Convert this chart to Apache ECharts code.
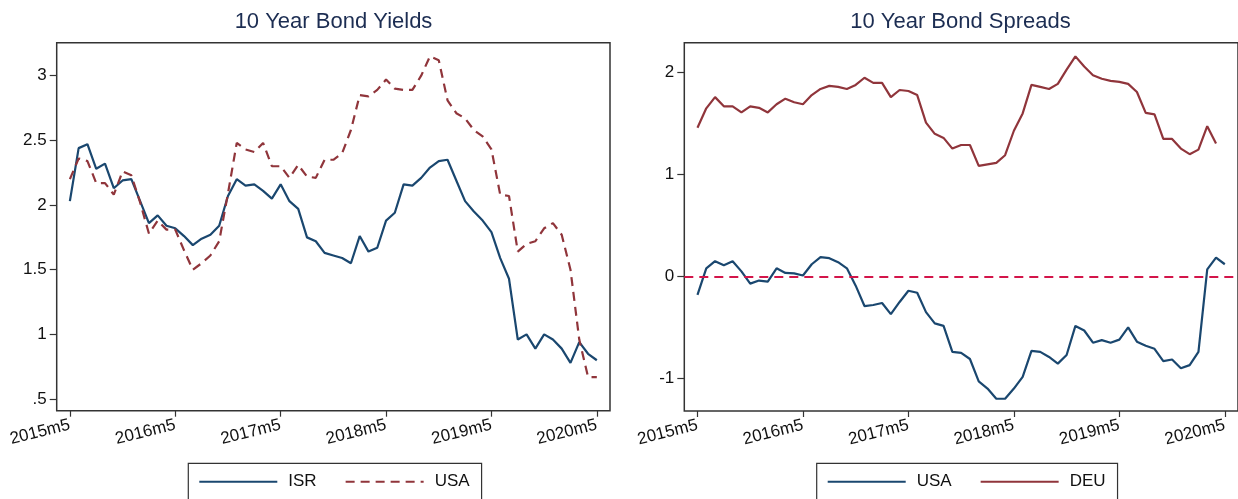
<!DOCTYPE html>
<html>
<head>
<meta charset="utf-8">
<script src="https://cdn.jsdelivr.net/npm/echarts@6/dist/echarts.min.js"></script>
<style>
html,body{margin:0;padding:0;background:#fff;}
#c{width:1238px;height:499px;}
</style>
</head>
<body>
<div id="c"></div>
<script>
// Month labels 2015m5 .. 2020m5
const months = [];
for (let y = 2015, m = 5; months.length < 61; ) {
  months.push(y + 'm' + m);
  m++; if (m > 12) { m = 1; y++; }
}
const xTickIdx = [0, 12, 24, 36, 48, 60];

// 10 Year Bond Yields
const isrYield = [2.03,2.44,2.47,2.28,2.32,2.13,2.19,2.20,2.03,1.86,1.92,1.84,1.82,1.76,1.69,1.74,1.77,1.84,2.07,2.20,
  2.15,2.16,2.11,2.05,2.16,2.03,1.97,1.75,1.72,1.63,1.61,1.59,1.55,1.76,1.64,1.67,1.88,1.94,2.16,2.15,
  2.21,2.29,2.34,2.35,2.19,2.03,1.95,1.88,1.79,1.59,1.43,0.96,1.00,0.89,1.00,0.96,0.89,0.78,0.94,0.85,0.80];
const usaYield = [2.20,2.36,2.34,2.17,2.17,2.08,2.26,2.23,2.02,1.78,1.88,1.81,1.81,1.65,1.50,1.55,1.61,1.72,2.09,2.48,
  2.43,2.41,2.48,2.30,2.30,2.21,2.31,2.22,2.21,2.35,2.35,2.40,2.58,2.85,2.84,2.89,2.97,2.90,2.89,2.89,
  3.00,3.15,3.12,2.81,2.71,2.67,2.58,2.53,2.43,2.08,2.07,1.64,1.70,1.72,1.82,1.86,1.77,1.50,0.96,0.67,0.67];

// 10 Year Bond Spreads
const usaSpread = [-0.18,0.08,0.15,0.11,0.15,0.05,-0.07,-0.04,-0.05,0.08,0.035,0.03,0.01,0.12,0.19,0.18,0.14,0.08,-0.09,-0.29,
  -0.28,-0.26,-0.37,-0.25,-0.14,-0.16,-0.35,-0.46,-0.485,-0.74,-0.75,-0.81,-1.03,-1.10,-1.20,-1.20,-1.10,-0.985,-0.73,-0.74,
  -0.79,-0.855,-0.77,-0.485,-0.53,-0.65,-0.625,-0.65,-0.62,-0.50,-0.64,-0.68,-0.71,-0.83,-0.815,-0.90,-0.87,-0.74,0.07,0.185,0.12];
const deuSpread = [1.46,1.65,1.76,1.67,1.67,1.61,1.67,1.655,1.61,1.69,1.745,1.71,1.69,1.78,1.84,1.87,1.86,1.84,1.88,1.95,
  1.90,1.90,1.76,1.83,1.82,1.78,1.51,1.40,1.36,1.255,1.29,1.29,1.085,1.10,1.115,1.19,1.43,1.60,1.88,1.86,
  1.84,1.89,2.03,2.16,2.06,1.975,1.94,1.92,1.91,1.89,1.81,1.605,1.59,1.35,1.35,1.255,1.20,1.245,1.475,1.305];

const yLeftTicks = [0.5, 1, 1.5, 2, 2.5, 3];
const yRightTicks = [-1, 0, 1, 2];

const NAVY = '#1a476f', MAROON = '#90353b', ZERO = '#d3154a';
const FONT = 'Liberation Sans, Arial, sans-serif';
const FRAME = '#333';

const toPairs = arr => arr.map((v, i) => [i, v]);

function xAxisOpt(gi) {
  return {
    type: 'value', gridIndex: gi, min: -1.5, max: 61.5,
    axisLine: { show: false, onZero: false },
    splitLine: { show: false },
    axisTick: { show: true, length: 6, customValues: xTickIdx, lineStyle: { color: FRAME, width: 1.2 } },
    axisLabel: {
      customValues: xTickIdx, rotate: 14, margin: 14,
      formatter: v => months[Math.round(v)] || '',
      color: '#111', fontSize: 17, fontFamily: FONT
    }
  };
}
function yAxisOpt(gi, min, max, ticks, fmt) {
  return {
    type: 'value', gridIndex: gi, min: min, max: max,
    axisLine: { show: false, onZero: false },
    splitLine: { show: false },
    axisTick: { show: true, length: 7, customValues: ticks, lineStyle: { color: FRAME, width: 1.2 } },
    axisLabel: {
      customValues: ticks, margin: 10, formatter: fmt,
      color: '#111', fontSize: 17, fontFamily: FONT
    }
  };
}

const legendCommon = {
  orient: 'horizontal', padding: [10, 12, 40, 10],
  borderColor: FRAME, borderWidth: 1.2, itemWidth: 78, itemHeight: 20, itemGap: 28,
  itemStyle: { opacity: 0 },
  textStyle: { fontSize: 17, color: '#111', fontFamily: FONT, padding: [4, 0, 0, 6] }
};

const chart = echarts.init(document.getElementById('c'), null, { renderer: 'canvas' });
chart.setOption({
  backgroundColor: '#fff',
  animation: false,
  title: [
    { text: '10 Year Bond Yields', left: 333.5, top: 11, textAlign: 'center', padding: 0,
      textStyle: { fontSize: 22, fontWeight: 'normal', color: '#1c2d52', fontFamily: FONT } },
    { text: '10 Year Bond Spreads', left: 960.5, top: 11, textAlign: 'center', padding: 0,
      textStyle: { fontSize: 22, fontWeight: 'normal', color: '#1c2d52', fontFamily: FONT } }
  ],
  grid: [
    { left: 56.7, top: 42.7, width: 553.3, height: 368, show: true, borderColor: FRAME, borderWidth: 1.5, backgroundColor: '#fff' },
    { left: 684.3, top: 42.7, width: 563.4, height: 368.3, show: true, borderColor: FRAME, borderWidth: 1.5, backgroundColor: '#fff' }
  ],
  xAxis: [xAxisOpt(0), xAxisOpt(1)],
  yAxis: [
    yAxisOpt(0, 0.41, 3.255, yLeftTicks, v => (Math.abs(v - 0.5) < 1e-9 ? '.5' : String(v))),
    yAxisOpt(1, -1.32, 2.294, yRightTicks, v => String(v))
  ],
  legend: [
    Object.assign({}, legendCommon, { left: 188.3, top: 463.3, data: ['ISR', 'USA'] }),
    Object.assign({}, legendCommon, { left: 816.7, top: 463.3, data: ['USA ', 'DEU'],
      formatter: n => n.trim() })
  ],
  series: [
    { name: 'ISR', type: 'line', xAxisIndex: 0, yAxisIndex: 0, data: toPairs(isrYield),
      symbol: 'none', color: NAVY, lineStyle: { color: NAVY, width: 2.2 } },
    { name: 'USA', type: 'line', xAxisIndex: 0, yAxisIndex: 0, data: toPairs(usaYield),
      symbol: 'none', color: MAROON, lineStyle: { color: MAROON, width: 2.2, type: [9, 6] } },
    { name: 'USA ', type: 'line', xAxisIndex: 1, yAxisIndex: 1, data: toPairs(usaSpread),
      symbol: 'none', color: NAVY, lineStyle: { color: NAVY, width: 2.2 }, z: 3,
      markLine: { silent: true, symbol: 'none', label: { show: false },
        lineStyle: { color: ZERO, width: 2, type: [9, 6] }, data: [{ yAxis: 0 }] } },
    { name: 'DEU', type: 'line', xAxisIndex: 1, yAxisIndex: 1, data: toPairs(deuSpread),
      symbol: 'none', color: MAROON, lineStyle: { color: MAROON, width: 2.2 } }
  ]
});
</script>
</body>
</html>
